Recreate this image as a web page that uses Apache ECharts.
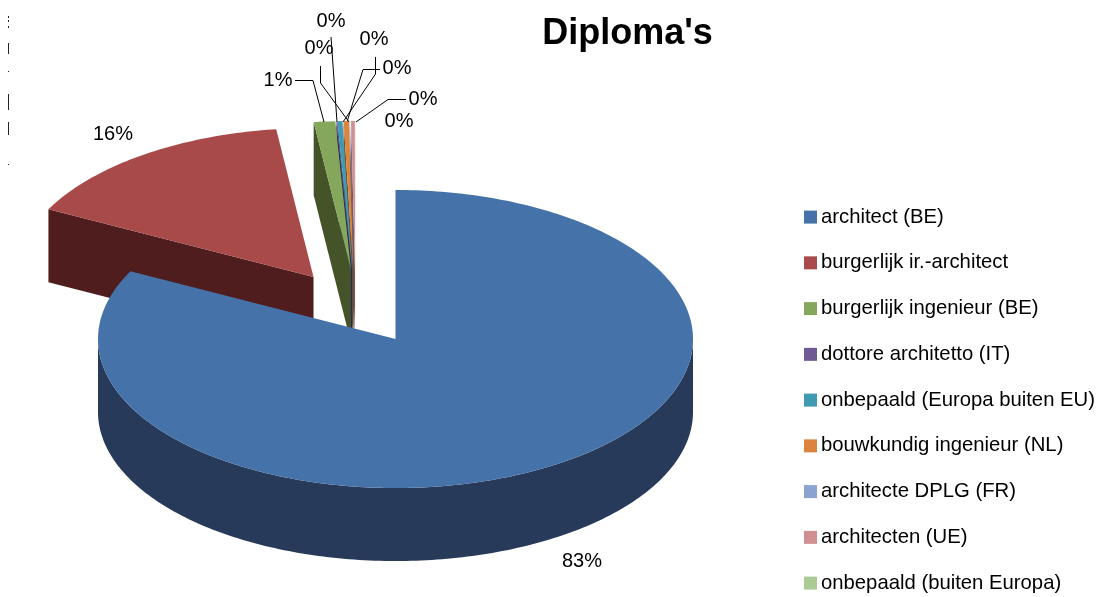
<!DOCTYPE html>
<html>
<head>
<meta charset="utf-8">
<title>Diploma's</title>
<style>
html, body { margin: 0; padding: 0; background: #fff; }
#main { width: 1100px; height: 597px; }
</style>
<script src="https://cdn.jsdelivr.net/npm/echarts@6/dist/echarts.min.js"></script>
</head>
<body>
<div id="main"></div>
<script>
var titleText = "Diploma's";
var diplomas = ['architect (BE)', 'burgerlijk ir.-architect', 'burgerlijk ingenieur (BE)', 'dottore architetto (IT)',
    'onbepaald (Europa buiten EU)', 'bouwkundig ingenieur (NL)', 'architecte DPLG (FR)', 'architecten (UE)', 'onbepaald (buiten Europa)'];
var shares = [82.5, 15.5, 1.16, 0.05, 0.27, 0.29, 0.02, 0.2, 0.01];
var topColors = ['#4573a9', '#a84a4a', '#85a75c', '#6f5a96', '#3f9ab2', '#db843d', '#8aa3d0', '#cf8f93', '#abcb96'];
var sideColors = ['#283a5a', '#4f1d1e', '#445428', '#2f2550', '#215665', '#7a4a20', '#4a5a78', '#7d5558', '#5d7050'];

// pie geometry, the squashed circle of the 3d view
var cx = 395.5, cy = 339, rx = 297.5, ry = 149, depth = 73;
// exploded slices: how far each tip moved from the centre
var sliceShift = [[0, 0], [-82, -62], [-44.5, -69], [-43.5, -69], [-43.3, -69], [-42.2, -69], [-41.5, -69], [-40.5, -69], [-40, -69]];
// drawing order, the back slices first and the big one over everything
var sliceZ = [20, 2, 12, 11, 10, 9, 8, 7, 6];

// where the percentage goes, and the leader line if there is one
var labelPos = [[582, 561], [113, 134], [278, 80], [319, 48], [331, 21], [374, 39], [397, 68], [423, 99], [399, 121]];
var leaders = [
    null, null,
    [[295, 80.5], [313, 80.5], [324, 122]],
    [[320.5, 66], [320.5, 83], [349, 122]],
    [[331, 37], [337, 122]],
    [[375.5, 57], [375.5, 74], [343, 122]],
    [[380, 69.5], [363, 69.5], [347, 122]],
    [[406, 99.5], [388, 99.5], [356, 122]],
    null
];
// scraps of a cropped axis on the left edge of the picture
var edgeMarks = [[16, 18], [20, 22], [26, 28], [43, 54], [71, 72], [94, 110], [122, 135], [164, 165]];

var total = 0;
for (var i = 0; i < shares.length; i++) {
    total += shares[i];
}
var startAngles = [];
var running = 0;
for (var i = 0; i < shares.length; i++) {
    startAngles.push(running / total * 360);
    running += shares[i];
}

function point(deg, shift, down) {
    var a = deg * Math.PI / 180;
    return [cx + shift[0] + rx * Math.sin(a), cy + shift[1] - ry * Math.cos(a) + (down || 0)];
}

function arcPoints(from, to, shift, down) {
    var pts = [];
    for (var d = from; d < to; d += 1) {
        pts.push(point(d, shift, down));
    }
    pts.push(point(to, shift, down));
    return pts;
}

function renderSlice(index) {
    return function (params, api) {
        var from = startAngles[index];
        var to = from + api.value(0) / total * 360;
        var shift = sliceShift[index];
        var tip = [cx + shift[0], cy + shift[1]];
        var children = [];

        // the cut face on the start side looks to the front when the start is on the left half
        if (from > 180) {
            children.push({
                type: 'polygon',
                shape: { points: [point(from, shift), tip, [tip[0], tip[1] + depth], point(from, shift, depth)] },
                style: { fill: sideColors[index] }
            });
        }
        // rim, only the front half can be seen
        var rimFrom = Math.max(from, 90), rimTo = Math.min(to, 270);
        if (rimFrom < rimTo) {
            var rim = arcPoints(rimFrom, rimTo, shift, 0).concat(arcPoints(rimFrom, rimTo, shift, depth).reverse());
            children.push({ type: 'polygon', shape: { points: rim }, style: { fill: sideColors[index] } });
        }
        children.push({
            type: 'polygon',
            shape: { points: [tip].concat(arcPoints(from, to, shift, 0)) },
            style: { fill: topColors[index] }
        });
        if (leaders[index]) {
            children.push({
                type: 'polyline',
                shape: { points: leaders[index] },
                style: { fill: null, stroke: '#000', lineWidth: 1 }
            });
        }
        children.push({
            type: 'text',
            x: labelPos[index][0],
            y: labelPos[index][1],
            style: {
                text: Math.round(api.value(0) / total * 100) + '%',
                fill: '#000',
                font: '20px "Liberation Sans"',
                align: 'center',
                verticalAlign: 'middle'
            }
        });
        return { type: 'group', children: children };
    };
}

var seriesList = [];
for (var i = 0; i < diplomas.length; i++) {
    seriesList.push({
        name: diplomas[i],
        type: 'custom',
        coordinateSystem: 'none',
        z: sliceZ[i],
        silent: true,
        itemStyle: { color: topColors[i] },
        data: [[shares[i]]],
        renderItem: renderSlice(i)
    });
}

var marks = [];
for (var i = 0; i < edgeMarks.length; i++) {
    marks.push({
        type: 'line',
        shape: { x1: 8.5, y1: edgeMarks[i][0], x2: 8.5, y2: edgeMarks[i][1] },
        style: { stroke: '#222', lineWidth: 1 }
    });
}

var chart = echarts.init(document.getElementById('main'));
chart.setOption({
    animation: false,
    backgroundColor: '#fff',
    title: {
        text: titleText,
        left: 622.5,
        top: 11,
        textAlign: 'center',
        textStyle: { fontFamily: 'Liberation Sans', fontSize: 36, fontWeight: 'bold', color: '#000' }
    },
    legend: {
        orient: 'vertical',
        left: 804,
        top: 206.6,
        padding: 0,
        icon: 'rect',
        itemWidth: 13,
        itemHeight: 13,
        itemGap: 24.75,
        selectedMode: false,
        textStyle: { fontFamily: 'Liberation Sans', fontSize: 20.3, color: '#000', lineHeight: 20, padding: [1, 0, 0, -1] },
        data: diplomas
    },
    graphic: marks,
    series: seriesList
});
</script>
</body>
</html>
